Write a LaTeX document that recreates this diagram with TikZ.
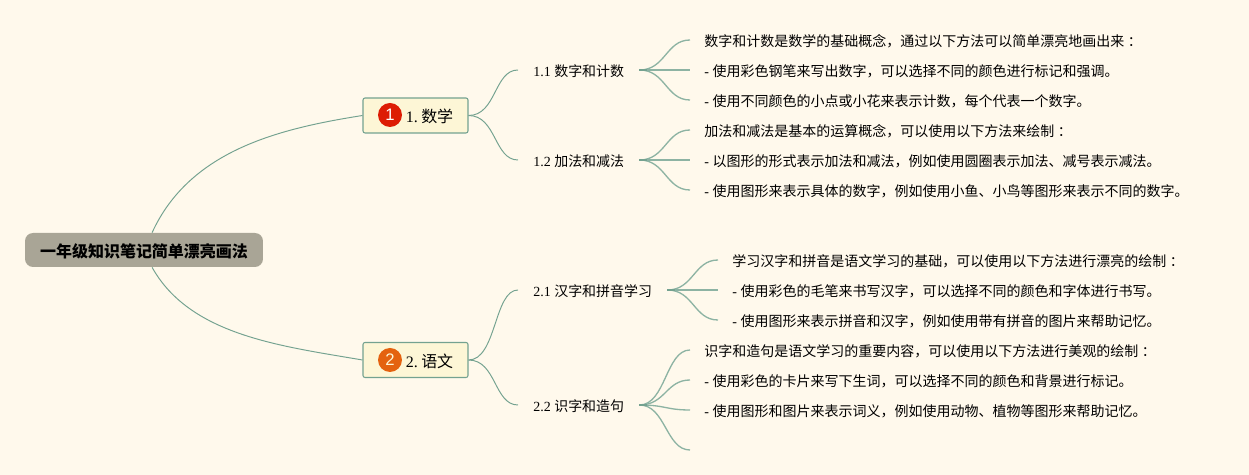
\documentclass[tikz,border=0pt]{standalone}
\usepackage{fontspec}
\usepackage{xcolor}
\setmainfont{Liberation Serif}
\newfontfamily\cjk{Noto Sans CJK SC}
\newfontfamily\badgefont{Liberation Sans}
\newcommand{\zh}[1]{{\cjk #1}}
\newcommand{\zhcolon}{\hspace{0.07cm}\zh{：}}
\definecolor{paper}{HTML}{FFF9EC}
\definecolor{branchcol}{HTML}{74A290}
\definecolor{twigcol}{HTML}{8DB3A3}
\definecolor{rootcol}{HTML}{A9A596}
\definecolor{maincol}{HTML}{FDF6D6}
\definecolor{redcol}{HTML}{DD1C04}
\definecolor{orangecol}{HTML}{E4620F}
\tikzset{
  branch/.style = {draw = branchcol, line width = 0.55pt},
  twig/.style = {draw = twigcol, line width = 0.75pt},
  stub/.style = {draw = branchcol, line width = 1.2pt},
  rootbox/.style = {fill = rootcol, rounded corners = 0.16cm, minimum width = 4.76cm, minimum height = 0.68cm, inner sep = 0pt, text height = 8pt, text depth = 0pt, font = \fontsize{9.1pt}{11pt}\selectfont\bfseries},
  mainbox/.style = {draw = branchcol, fill = maincol, line width = 0.6pt, rounded corners = 0.04cm, minimum width = 2.1cm, minimum height = 0.7cm, inner sep = 0pt, text height = 8pt, text depth = 0pt, font = \fontsize{9.1pt}{11pt}\selectfont},
  subbox/.style = {anchor = west, inner xsep = 0.3cm, inner ysep = 0pt, text height = 7.2pt, text depth = 0pt, font = \fontsize{7.95pt}{10pt}\selectfont},
  leafbox/.style = {anchor = west, inner xsep = 0.28cm, inner ysep = 0pt, text height = 7.2pt, text depth = 0pt, font = \fontsize{7.97pt}{10pt}\selectfont},
  badge/.style = {circle, inner sep = 0pt, minimum size = 0.48cm, text = white, font = \fontsize{9.5pt}{11pt}\badgefont}
}

\begin{document}
\begin{tikzpicture}[x = 0.02cm, y = -0.02cm]
  \useasboundingbox[fill = paper] (0, 0) rectangle (1249, 475);

  \node[rootbox] (root) at (144, 250) {\cjk\bfseries 一年级知识笔记简单漂亮画法};

  \node[mainbox] (math) at (415.5, 115.5) {\hspace{0.56cm}1.\hspace{0.07cm}\zh{数学}};
  \node[mainbox] (chinese) at (415.5, 360) {\hspace{0.56cm}2.\hspace{0.07cm}\zh{语文}};
  \node[badge, fill = redcol] (one) at (390, 115) {1};
  \node[badge, fill = orangecol, text = maincol] (two) at (390, 360) {2};

  \node[subbox] (s11) at (518, 70) {1.1 \zh{数字和计数}};
  \node[subbox] (s12) at (518, 160) {1.2 \zh{加法和减法}};
  \node[subbox] (s21) at (518, 290) {2.1 \zh{汉字和拼音学习}};
  \node[subbox] (s22) at (518, 405) {2.2 \zh{识字和造句}};

  \node[leafbox] (a1) at (690, 40) {\zh{数字和计数是数学的基础概念，通过以下方法可以简单漂亮地画出来}\zhcolon};
  \node[leafbox] (a2) at (690, 70) {- \zh{使用彩色钢笔来写出数字，可以选择不同的颜色进行标记和强调。}};
  \node[leafbox] (a3) at (690, 100) {- \zh{使用不同颜色的小点或小花来表示计数，每个代表一个数字。}};
  \node[leafbox] (b1) at (690, 130) {\zh{加法和减法是基本的运算概念，可以使用以下方法来绘制}\zhcolon};
  \node[leafbox] (b2) at (690, 160) {- \zh{以图形的形式表示加法和减法，例如使用圆圈表示加法、减号表示减法。}};
  \node[leafbox] (b3) at (690, 190) {- \zh{使用图形来表示具体的数字，例如使用小鱼、小鸟等图形来表示不同的数字。}};
  \node[leafbox] (c1) at (718, 260) {\zh{学习汉字和拼音是语文学习的基础，可以使用以下方法进行漂亮的绘制}\zhcolon};
  \node[leafbox] (c2) at (718, 290) {- \zh{使用彩色的毛笔来书写汉字，可以选择不同的颜色和字体进行书写。}};
  \node[leafbox] (c3) at (718, 320) {- \zh{使用图形来表示拼音和汉字，例如使用带有拼音的图片来帮助记忆。}};
  \node[leafbox] (d1) at (690, 350) {\zh{识字和造句是语文学习的重要内容，可以使用以下方法进行美观的绘制}\zhcolon};
  \node[leafbox] (d2) at (690, 380) {- \zh{使用彩色的卡片来写下生词，可以选择不同的颜色和背景进行标记。}};
  \node[leafbox] (d3) at (690, 410) {- \zh{使用图形和图片来表示词义，例如使用动物、植物等图形来帮助记忆。}};
  \coordinate (d4) at (690, 450);

  \draw[branch] (root.65) .. controls +(38, -83) and +(-82, 13) .. (math.west);
  \draw[branch] (root.-65) .. controls +(38, 68) and +(-82, -14) .. (chinese.west);

  \foreach \from/\to in {math/s11, math/s12, chinese/s21, chinese/s22}
    \draw[branch] (\from.east) .. controls +(28, 0) and +(-24, 0) .. (\to.west);
  \foreach \from/\to in {s11/a1, s11/a2, s11/a3, s12/b1, s12/b2, s12/b3, s21/c1, s21/c2, s21/c3, s22/d1, s22/d2, s22/d3}
    \draw[twig] (\from.east) .. controls +(26, 0) and +(-24, 0) .. (\to.west);
  \draw[twig] (s22.east) .. controls +(26, 0) and +(-24, 0) .. (d4);
  \foreach \from in {s11, s12, s21, s22}
    \draw[stub] (\from.east) -- +(8, 0);
\end{tikzpicture}
\end{document}
